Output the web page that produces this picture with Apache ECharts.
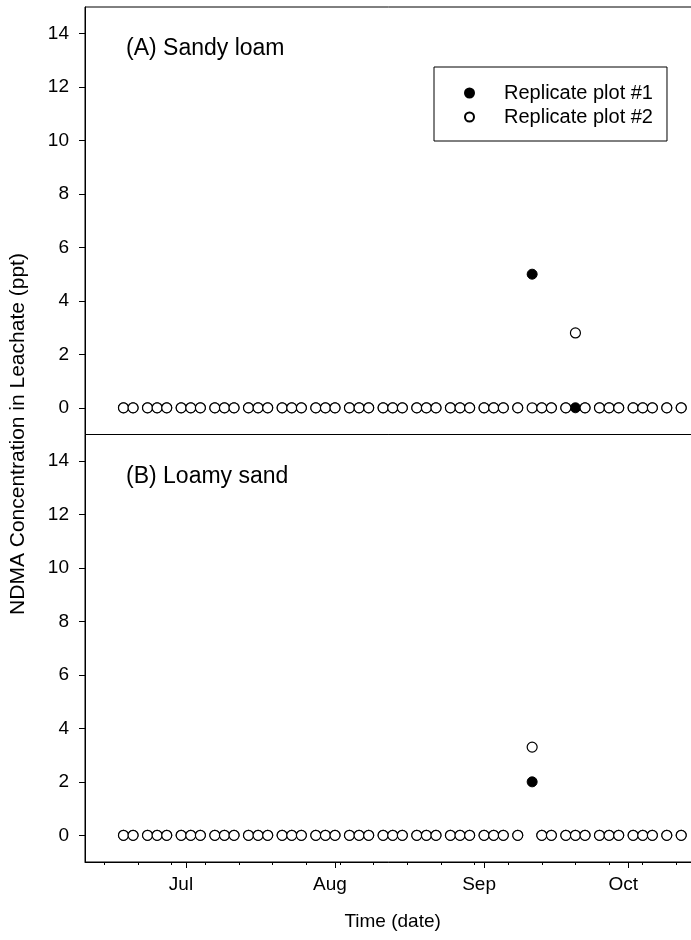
<!DOCTYPE html>
<html>
<head>
<meta charset="utf-8">
<script src="https://cdn.jsdelivr.net/npm/echarts@6/dist/echarts.min.js"></script>
<style>
html,body{margin:0;padding:0;background:#fff;}
#chart{width:691px;height:940px;}
</style>
</head>
<body>
<div id="chart"></div>
<script>
// ---- data ----
var sampleDates = ['2008-06-18','2008-06-20','2008-06-23','2008-06-25','2008-06-27','2008-06-30','2008-07-02','2008-07-04',
  '2008-07-07','2008-07-09','2008-07-11','2008-07-14','2008-07-16','2008-07-18','2008-07-21','2008-07-23','2008-07-25',
  '2008-07-28','2008-07-30','2008-08-01','2008-08-04','2008-08-06','2008-08-08','2008-08-11','2008-08-13','2008-08-15',
  '2008-08-18','2008-08-20','2008-08-22','2008-08-25','2008-08-27','2008-08-29','2008-09-01','2008-09-03','2008-09-05',
  '2008-09-08','2008-09-11','2008-09-13','2008-09-15','2008-09-18','2008-09-20','2008-09-22','2008-09-25','2008-09-27',
  '2008-09-29','2008-10-02','2008-10-04','2008-10-06','2008-10-09','2008-10-12'];
var sandyRep1 = [0,0,0,0,0,0,0,0, 0,0,0,0,0,0,0,0,0, 0,0,0,0,0,0,0,0,0, 0,0,0,0,0,0,0,0,0, 0,5,0,0,0,0,0,0,0, 0,0,0,0,0,0];
var sandyRep2 = [0,0,0,0,0,0,0,0, 0,0,0,0,0,0,0,0,0, 0,0,0,0,0,0,0,0,0, 0,0,0,0,0,0,0,0,0, 0,0,0,0,0,2.8,0,0,0, 0,0,0,0,0,0];
var loamyRep1 = [0,0,0,0,0,0,0,0, 0,0,0,0,0,0,0,0,0, 0,0,0,0,0,0,0,0,0, 0,0,0,0,0,0,0,0,0, 0,2,0,0,0,0,0,0,0, 0,0,0,0,0,0];
var loamyRep2 = [0,0,0,0,0,0,0,0, 0,0,0,0,0,0,0,0,0, 0,0,0,0,0,0,0,0,0, 0,0,0,0,0,0,0,0,0, 0,3.3,0,0,0,0,0,0,0, 0,0,0,0,0,0];
var yTicks = [0,2,4,6,8,10,12,14];
var monthTickDates = ['2008-07-01','2008-08-01','2008-09-01','2008-10-01'];
var monthLabels = ['Jul','Aug','Sep','Oct'];
var weekTickDates = ['2008-06-14','2008-06-21','2008-06-28','2008-07-05','2008-07-12','2008-07-19','2008-07-26',
  '2008-08-02','2008-08-09','2008-08-16','2008-08-23','2008-08-30','2008-09-06','2008-09-13','2008-09-20',
  '2008-09-27','2008-10-04','2008-10-11'];
var xStartDate = '2008-06-10';
var seriesNames = ['Replicate plot #1','Replicate plot #2'];
var panelLabels = ['(A) Sandy loam','(B) Loamy sand'];
var xTitle = 'Time (date)';
var yTitle = 'NDMA Concentration in Leachate (ppt)';

// ---- helpers ----
var BASE = Date.UTC(2008,5,1);
function dayNum(s){ var p=s.split('-'); return (Date.UTC(+p[0],+p[1]-1,+p[2])-BASE)/86400000; }
function pairs(vals){ return sampleDates.map(function(d,i){ return [dayNum(d), vals[i]]; }); }
var monthDays = monthTickDates.map(dayNum);
var weekDays = weekTickDates.map(dayNum);
var xMin = dayNum(xStartDate);
var xMax = xMin + 127.95;

var FONT = "'Liberation Sans', Arial, sans-serif";
var gridW = 615.2;
var grids = [
  {left:85, top:7, width:gridW, height:427.5, show:true, borderColor:'#000', borderWidth:1, backgroundColor:'transparent', outerBoundsMode:'none', containLabel:false},
  {left:85, top:434.5, width:gridW, height:427.5, show:true, borderColor:'#000', borderWidth:1, backgroundColor:'transparent', outerBoundsMode:'none', containLabel:false}
];
function yAx(gi){
  return {type:'value', gridIndex:gi, min:-1, max:15, position:'left',
    axisLine:{show:true, onZero:false, lineStyle:{color:'#000', width:1}},
    axisTick:{show:true, inside:false, length:6, customValues:yTicks, lineStyle:{color:'#000', width:1}},
    axisLabel:{show:true, customValues:yTicks, margin:16, fontSize:19, color:'#000', fontFamily:FONT},
    splitLine:{show:false}};
}
var xAxes = [
  {type:'value', gridIndex:0, min:xMin, max:xMax, position:'bottom', axisLine:{show:false, onZero:false}, axisTick:{show:false}, axisLabel:{show:false}, splitLine:{show:false}},
  {type:'value', gridIndex:1, min:xMin, max:xMax, position:'bottom',
    axisLine:{show:true, onZero:false, lineStyle:{color:'#000', width:1}},
    axisTick:{show:true, length:6, customValues:monthDays, lineStyle:{color:'#000', width:1}},
    axisLabel:{show:true, customValues:monthDays, margin:13, fontSize:19, color:'#000', fontFamily:FONT, padding:[0,10,0,0],
      formatter:function(v){ var i = monthDays.indexOf(v); return i>=0 ? monthLabels[i] : ''; }},
    splitLine:{show:false},
    name:xTitle, nameLocation:'middle', nameGap:50, nameTextStyle:{fontSize:19, color:'#000', fontFamily:FONT}},
  {type:'value', gridIndex:1, min:xMin, max:xMax, position:'bottom', offset:0,
    axisLine:{show:false, onZero:false},
    axisTick:{show:true, length:3, customValues:weekDays, lineStyle:{color:'#000', width:1}},
    axisLabel:{show:false}, splitLine:{show:false}}
];
function filled(name, vals, xi, yi){
  return {type:'scatter', name:name, xAxisIndex:xi, yAxisIndex:yi, data:pairs(vals), symbol:'circle', symbolSize:10,
    itemStyle:{color:'#000', borderColor:'#000', borderWidth:1, opacity:1}, z:2, silent:true};
}
function hollow(name, vals, xi, yi){
  return {type:'scatter', name:name, xAxisIndex:xi, yAxisIndex:yi, data:pairs(vals), symbol:'circle', symbolSize:10,
    itemStyle:{color:'#fff', borderColor:'#000', borderWidth:1.2, opacity:1}, z:3, silent:true};
}

var chart = echarts.init(document.getElementById('chart'), null, {renderer:'canvas'});
chart.setOption({
  animation:false,
  backgroundColor:'#fff',
  textStyle:{fontFamily:FONT},
  grid:grids,
  xAxis:xAxes,
  yAxis:[yAx(0), yAx(1)],
  legend:{
    data:seriesNames, orient:'vertical', left:434, top:67,
    itemWidth:9, itemHeight:9, itemGap:4, selectedMode:false,
    padding:[16,14,14,30], borderColor:'#000', borderWidth:1, borderRadius:0, backgroundColor:'#fff',
    textStyle:{fontSize:20, color:'#000', fontFamily:FONT, padding:[0,0,0,25]}
  },
  series:[
    filled(seriesNames[0], sandyRep1, 0, 0),
    hollow(seriesNames[1], sandyRep2, 0, 0),
    filled(seriesNames[0], loamyRep1, 1, 1),
    hollow(seriesNames[1], loamyRep2, 1, 1)
  ],
  graphic:[
    {type:'text', left:126, top:37, style:{text:panelLabels[0], fontSize:23, fill:'#000', fontFamily:FONT}},
    {type:'text', left:126, top:465, style:{text:panelLabels[1], fontSize:23, fill:'#000', fontFamily:FONT}},
    {type:'text', x:18, y:434, rotation:Math.PI/2,
      style:{text:yTitle, fontSize:21, fill:'#000', fontFamily:FONT, align:'center', verticalAlign:'middle'}}
  ]
});
</script>
</body>
</html>
